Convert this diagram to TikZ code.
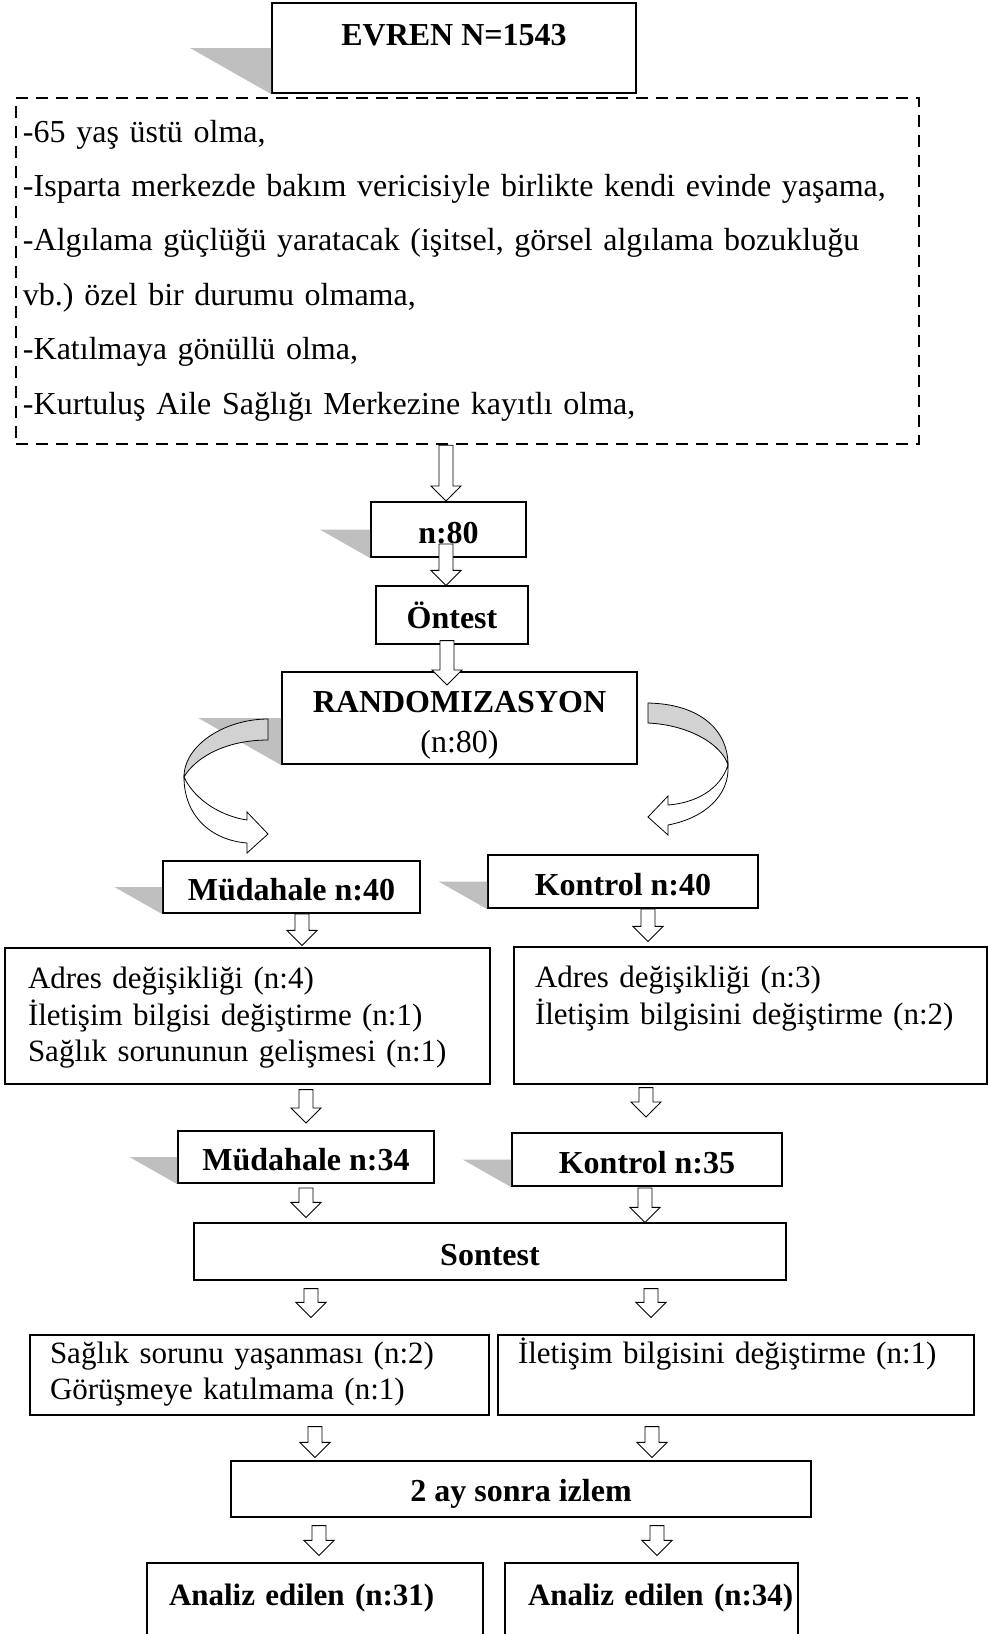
\documentclass[tikz,border=0pt]{standalone}
\usepackage{fontspec}
\setmainfont{Liberation Serif}
\usetikzlibrary{calc}
\frenchspacing

\tikzset{
  kutu/.style={draw, line width=2pt, fill=white, inner sep=0pt,
    font=\fontsize{32}{37}\selectfont\bfseries, text height=27pt, text depth=0pt},
  ince/.style={kutu, line width=1.2pt},
  liste/.style={draw, line width=1.2pt, fill=white, inner sep=0pt, align=left,
    font=\fontsize{31}{36.5}\selectfont, text height=27pt},
  blok/.style={draw, fill=white, line width=0.9pt,
    to path={let \p1=(\tikztostart), \p2=(\tikztotarget) in
      (\x1-7pt,\y1) -- (\x1+7pt,\y1) -- (\x1+7pt,\y2+15pt) -- (\x1+15pt,\y2+15pt)
      -- (\x1,\y2) -- (\x1-15pt,\y2+15pt) -- (\x1-7pt,\y2+15pt) -- cycle}},
  bant/.style={draw, line width=0.8pt, fill=gray!35},
}
\newcommand{\golge}[1]{%
  \fill[gray!50] let \p1=(#1.north west), \p2=(#1.south west) in
    (#1.west) -- ++({-0.88*(\y1-\y2)},0) -- (#1.south west) -- cycle;}

\begin{document}
\begin{tikzpicture}[x=1pt,y=1pt]
  \useasboundingbox (0,0) rectangle (988,-1634);
  \fill[white] (0,0) rectangle (988,-1634);

  \node[kutu, minimum width=364pt, minimum height=90pt, text depth=32pt] (evren) at (454,-48) {EVREN N=1543};
  \node[draw, line width=2.5pt, dash pattern=on 12pt off 8pt, inner sep=0pt,
    minimum width=903pt, minimum height=346pt, text width=889pt, align=left,
    font=\fontsize{32}{54.4}\selectfont, text height=27pt, text depth=285pt] (kosul) at (467.5,-271) {%
    -65 yaş üstü olma,\\
    -Isparta merkezde bakım vericisiyle birlikte kendi evinde yaşama,\\
    \makebox[873pt][s]{-Algılama güçlüğü yaratacak (işitsel, görsel algılama bozukluğu}\\
    vb.) özel bir durumu olmama,\\
    -Katılmaya gönüllü olma,\\
    -Kurtuluş Aile Sağlığı Merkezine kayıtlı olma,};

  \node[kutu, minimum width=155pt, minimum height=55pt] (n80) at (448.5,-529.5) {n:80};
  \node[ince, minimum width=152pt, minimum height=58pt] (ontest) at (452,-615) {Öntest};
  \node[kutu, minimum width=355pt, minimum height=92pt, text width=355pt, align=center,
    text depth=38pt] (random) at (459.5,-718) {RANDOMIZASYON\\[3pt]\mdseries (n:80)};

  \node[kutu, minimum width=257pt, minimum height=52pt] (m40) at (291.5,-887) {Müdahale n:40};
  \node[kutu, minimum width=270pt, minimum height=53pt] (k40) at (623,-881.5) {Kontrol n:40};

  \node[liste, minimum width=485pt, minimum height=136pt, text width=439pt, text depth=82pt]
    (solkutu) at (247.5,-1016) {Adres değişikliği (n:4)\\İletişim bilgisi değiştirme (n:1)\\Sağlık sorununun gelişmesi (n:1)};
  \node[liste, minimum width=473pt, minimum height=137pt, text width=431pt, text depth=83pt]
    (sagkutu) at (750.5,-1015.5) {Adres değişikliği (n:3)\\İletişim bilgisini değiştirme (n:2)};

  \node[kutu, minimum width=256pt, minimum height=52pt] (m34) at (306,-1157) {Müdahale n:34};
  \node[kutu, minimum width=270pt, minimum height=53pt] (k35) at (647,-1159.5) {Kontrol n:35};
  \node[ince, minimum width=592pt, minimum height=57pt] (sontest) at (490,-1251.5) {Sontest};

  \node[liste, minimum width=459pt, minimum height=80pt, text width=419pt, text depth=51pt]
    (solkutu2) at (259.5,-1375) {Sağlık sorunu yaşanması (n:2)\\Görüşmeye katılmama (n:1)};
  \node[liste, minimum width=476pt, minimum height=80pt, text width=436pt, text depth=51pt]
    (sagkutu2) at (736,-1375) {İletişim bilgisini değiştirme (n:1)};

  \node[ince, minimum width=580pt, minimum height=56pt, text depth=2pt] (izlem) at (521,-1489) {2 ay sonra izlem};
  \node[ince, minimum width=336pt, minimum height=80pt, text width=292pt, align=left,
    font=\fontsize{31}{36}\selectfont\bfseries, text depth=23pt] (analiz1) at (315,-1603) {Analiz edilen (n:31)};
  \node[ince, minimum width=293pt, minimum height=80pt, text width=247pt, align=left,
    font=\fontsize{31}{36}\selectfont\bfseries, text depth=23pt] (analiz2) at (651.5,-1603) {\mbox{Analiz edilen (n:34)}};

  \golge{evren}
  \golge{n80}
  \golge{random}
  \golge{m40}
  \golge{k40}
  \golge{m34}
  \golge{k35}

  % kivrik oklar
  \draw[bant] (268,-719) .. controls (225,-719) and (184,-745) .. (184,-777)
    .. controls (195,-758) and (225,-740) .. (268,-740) -- cycle;
  \draw[line width=0.8pt, fill=white] (184,-777) .. controls (192,-795) and (215,-815) .. (247,-820)
    -- (247,-812) -- (268,-834) -- (247,-853) -- (247,-843)
    .. controls (210,-840) and (184,-815) .. (184,-777) -- cycle;
  \draw[bant] (648,-703) .. controls (700,-704) and (728,-730) .. (728,-765)
    .. controls (722,-745) and (690,-725) .. (648,-723) -- cycle;
  \draw[line width=0.8pt, fill=white] (728,-765) .. controls (720,-790) and (695,-803) .. (668,-805)
    -- (668,-796) -- (648,-817) -- (668,-835) -- (668,-825)
    .. controls (705,-818) and (730,-795) .. (728,-765) -- cycle;

  \draw[blok] ([xshift=-21.5pt]kosul.south) to (n80.north);
  \draw[blok] ([xshift=-2.5pt,yshift=14pt]n80.south) to (ontest.north);
  \draw[blok] ([xshift=-5pt,yshift=4pt]ontest.south) to ([yshift=-14pt]random.north);
  \draw[blok] ([xshift=10.5pt]m40.south) to ([yshift=2pt]solkutu.north);
  \draw[blok] ([xshift=25pt]k40.south) to ([yshift=5pt]sagkutu.north);
  \draw[blok] ([xshift=58.5pt,yshift=-5pt]solkutu.south) to ([yshift=7pt]m34.north);
  \draw[blok] ([xshift=-104.5pt,yshift=-3pt]sagkutu.south) to ([yshift=15pt]k35.north);
  \draw[blok] ([yshift=-4pt]m34.south) to ([yshift=5pt]sontest.north);
  \draw[blok] ([xshift=-2pt,yshift=-1pt]k35.south) to (sontest.north);
  \draw[blok] ([xshift=-179pt,yshift=-8pt]sontest.south) to ([yshift=17pt]solkutu2.north);
  \draw[blok] ([xshift=161pt,yshift=-8pt]sontest.south) to ([yshift=17pt]sagkutu2.north);
  \draw[blok] ([xshift=55.5pt,yshift=-11pt]solkutu2.south) to ([yshift=3pt]izlem.north);
  \draw[blok] ([xshift=-84pt,yshift=-11pt]sagkutu2.south) to ([yshift=3pt]izlem.north);
  \draw[blok] ([xshift=-202pt,yshift=-8pt]izlem.south) to ([yshift=7pt]analiz1.north);
  \draw[blok] ([xshift=136pt,yshift=-8pt]izlem.south) to ([yshift=7pt]analiz2.north);
\end{tikzpicture}
\end{document}
